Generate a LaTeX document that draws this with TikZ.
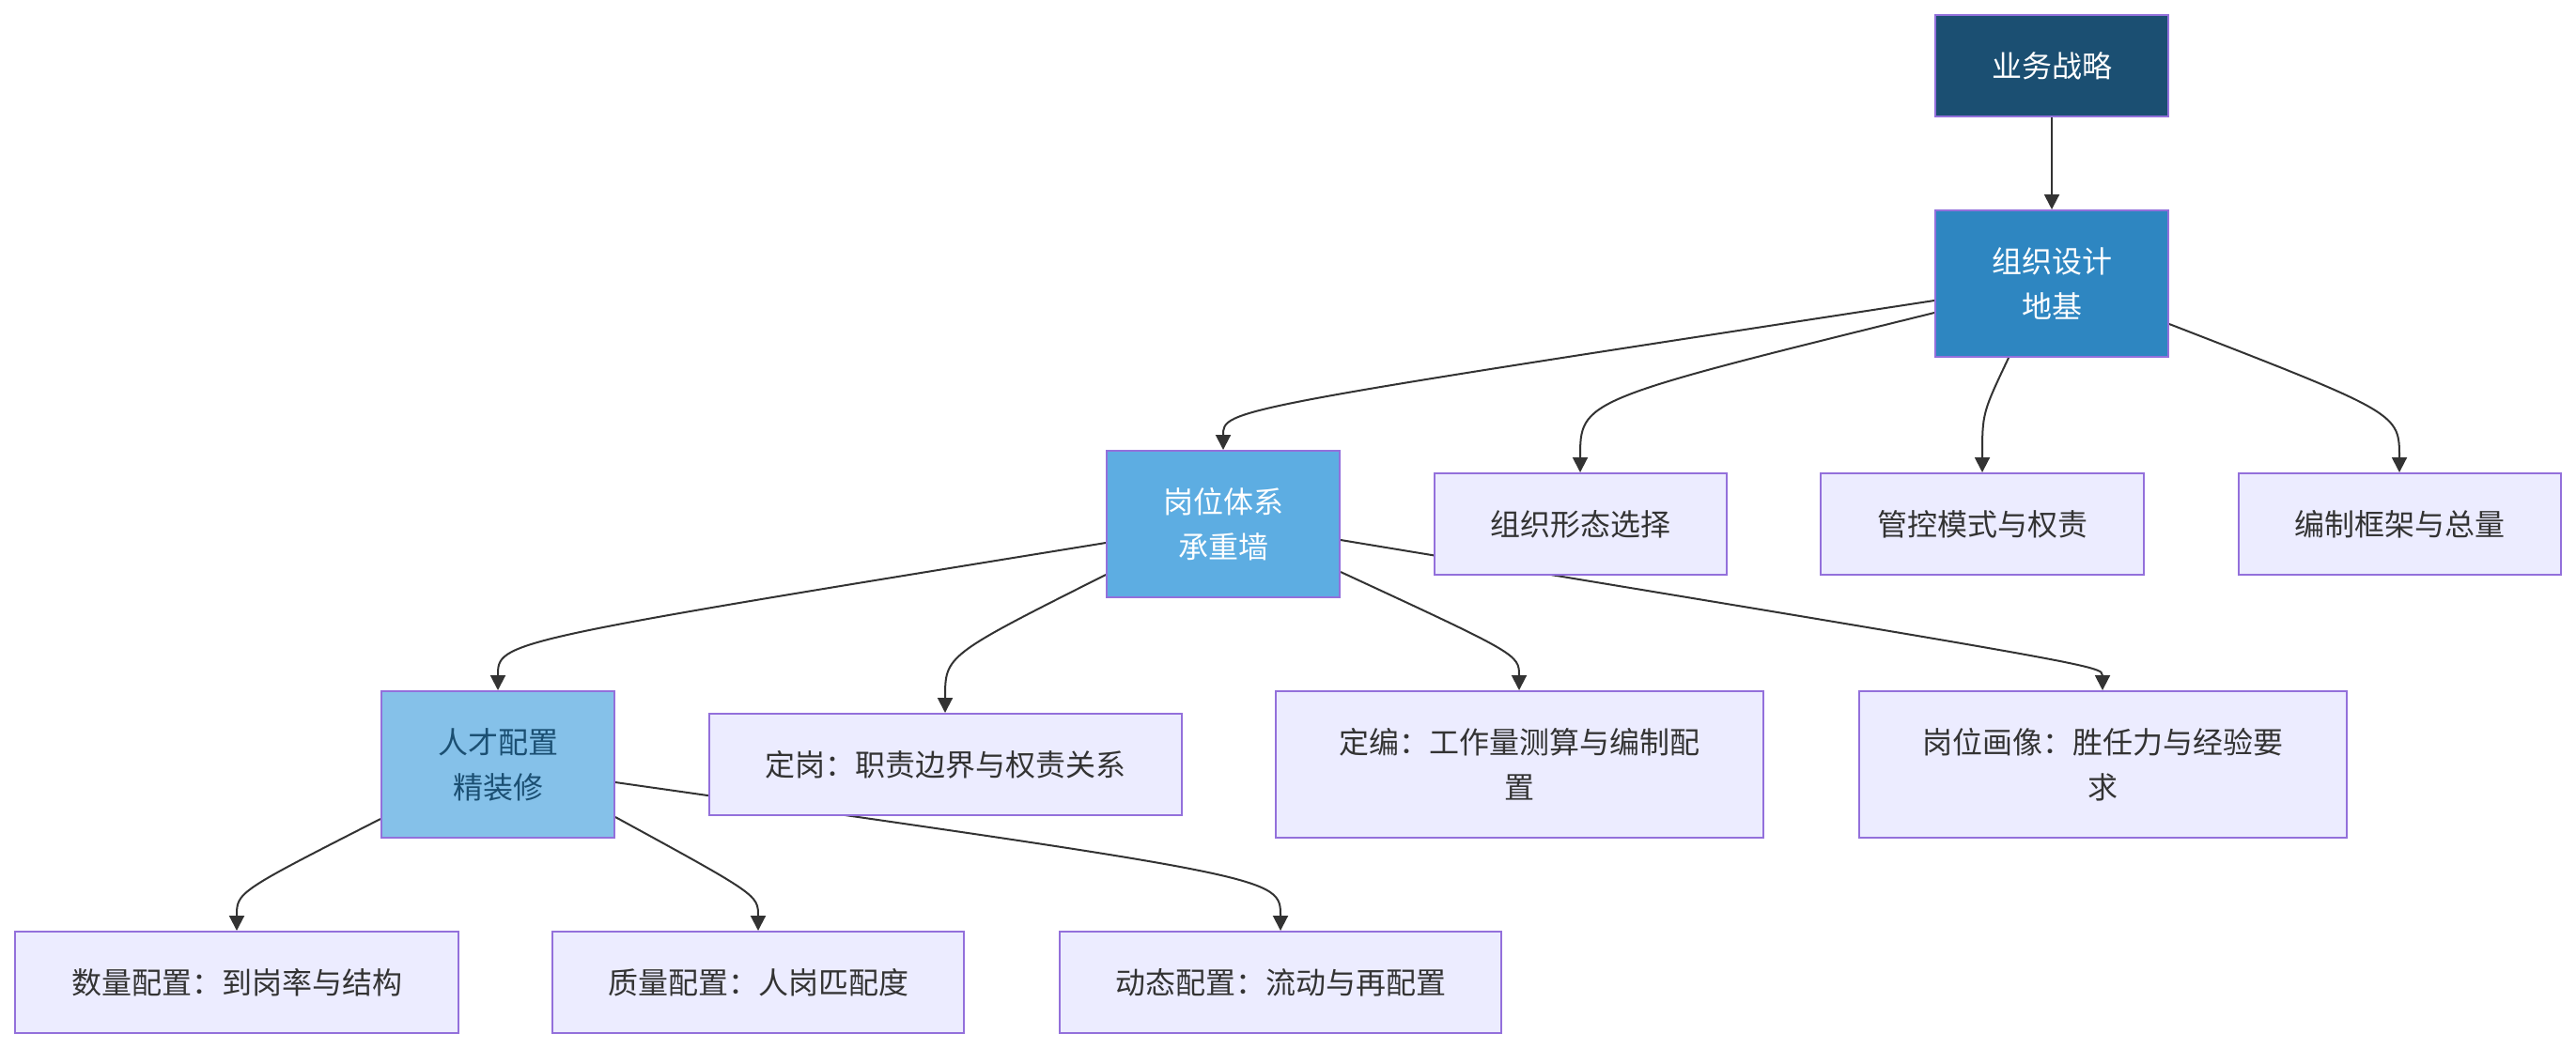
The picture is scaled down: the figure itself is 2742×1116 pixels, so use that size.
\documentclass[tikz,border=0pt]{standalone}
\usepackage{fontspec}
\setmainfont{Noto Sans CJK SC}
\usetikzlibrary{arrows.meta,calc,backgrounds}
\definecolor{cdark}{HTML}{1B4F72}
\definecolor{corg}{HTML}{2E86C1}
\definecolor{cpost}{HTML}{5DADE2}
\definecolor{ctal}{HTML}{85C1E9}
\definecolor{lav}{HTML}{ECECFF}
\definecolor{bord}{HTML}{9370DB}
\definecolor{txt}{HTML}{333333}
\begin{document}
\begin{tikzpicture}[x=0.5pt,y=-0.5pt,
  box/.style={draw=bord, line width=1pt, fill=lav, text=txt, align=center, inner sep=0pt,
    font=\fontsize{16pt}{24pt}\selectfont},
  wh/.style 2 args={minimum width={#1*0.5pt}, minimum height={#2*0.5pt}},
  edge/.style={draw=txt, line width=1pt, -{Triangle[length=8pt,width=8pt]}}]
\useasboundingbox (0,0) rectangle (2742,1116);

\node[box, fill=cdark, text=white, wh={248}{108}] (strat) at (2184,70) {业务战略};
\node[box, fill=corg, text=white, wh={248}{156}] (org) at (2184,302) {组织设计\\地基};
\node[box, fill=cpost, text=white, wh={248}{156}] (post) at (1302,558) {岗位体系\\承重墙};
\node[box, wh={311}{108}] (form) at (1682,558) {组织形态选择};
\node[box, wh={344}{108}] (ctrl) at (2110,558) {管控模式与权责};
\node[box, wh={343}{108}] (frame) at (2554,558) {编制框架与总量};
\node[box, fill=ctal, text=cdark, wh={248}{156}] (talent) at (530,814) {人才配置\\精装修};
\node[box, wh={503}{108}] (dg) at (1006,814) {定岗：职责边界与权责关系};
\node[box, wh={519}{156}] (db) at (1617,814) {定编：工作量测算与编制配\\置};
\node[box, wh={519}{156}] (prof) at (2238,814) {岗位画像：胜任力与经验要\\求};
\node[box, wh={472}{108}] (qty) at (252,1046) {数量配置：到岗率与结构};
\node[box, wh={438}{108}] (qual) at (807,1046) {质量配置：人岗匹配度};
\node[box, wh={470}{108}] (dyn) at (1363,1046) {动态配置：流动与再配置};

\begin{scope}[on background layer]
\draw[edge] (strat) -- (org);
\draw[edge] ($(org.west)+(0,18)$) .. controls ($(post.north)+(0,-43)$) and ($(post.north)+(0,-43)$) .. (post.north);
\draw[edge] ($(org.west)+(0,31)$) .. controls ($(form.north)+(0,-77)$) and ($(form.north)+(0,-77)$) .. (form.north);
\draw[edge] ($(org.south)+(-46,0)$) .. controls ($(ctrl.north)+(0,-63)$) and ($(ctrl.north)+(0,-63)$) .. (ctrl.north);
\draw[edge] ($(org.east)+(0,43)$) .. controls ($(frame.north)+(0,-63)$) and ($(frame.north)+(0,-63)$) .. (frame.north);
\draw[edge] ($(post.west)+(0,20)$) .. controls ($(talent.north)+(0,-52)$) and ($(talent.north)+(0,-52)$) .. (talent.north);
\draw[edge] ($(post.west)+(0,54)$) .. controls ($(dg.north)+(0,-61)$) and ($(dg.north)+(0,-61)$) .. (dg.north);
\draw[edge] ($(post.east)+(0,51)$) .. controls ($(db.north)+(0,-38)$) and ($(db.north)+(0,-38)$) .. (db.north);
\draw[edge] ($(post.east)+(0,17)$) .. controls ($(prof.north)+(0,-26)$) and ($(prof.north)+(0,-26)$) .. (prof.north);
\draw[edge] ($(talent.west)+(0,58)$) .. controls ($(qty.north)+(0,-41)$) and ($(qty.north)+(0,-41)$) .. (qty.north);
\draw[edge] ($(talent.east)+(0,56)$) .. controls ($(qual.north)+(0,-38)$) and ($(qual.north)+(0,-38)$) .. (qual.north);
\draw[edge] ($(talent.east)+(0,19)$) .. controls ($(dyn.north)+(0,-57)$) and ($(dyn.north)+(0,-57)$) .. (dyn.north);
\end{scope}
\end{tikzpicture}
\end{document}
